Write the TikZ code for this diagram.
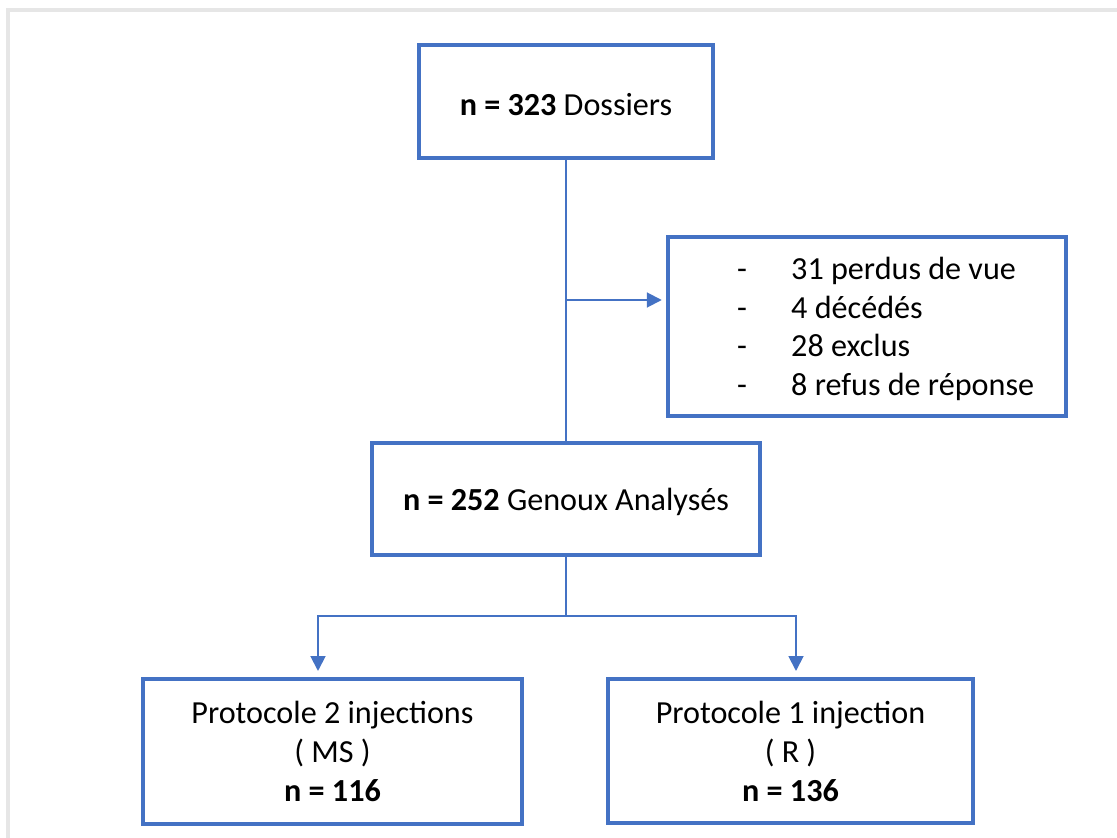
\documentclass[tikz,border=0pt]{standalone}
\usepackage{fontspec}
\setmainfont{Carlito}
\usetikzlibrary{arrows.meta}
\definecolor{boxblue}{HTML}{4472C4}
\definecolor{framegray}{HTML}{E6E6E6}
\tikzset{
  box/.style={draw=boxblue,line width=2.1pt,fill=white,align=center,inner sep=0pt,font=\fontsize{18.3}{22.2}\selectfont},
  link/.style={draw=boxblue,line width=1.1pt},
  arr/.style={link,-{Triangle[length=8.5pt,width=8.5pt]}}
}
\begin{document}
\begin{tikzpicture}[x=0.02cm,y=-0.02cm]
        \useasboundingbox (0,0) rectangle (1117,838);
        \draw[framegray,line width=2.2pt] (8,838)--(8,10)--(1117,10);
        \node[box,minimum width=294*0.02cm,minimum height=113*0.02cm,text height=16.4pt,text depth=0pt] (dos) at (566,101.5) {\textbf{n = 323} Dossiers};
        \node[box,minimum width=398*0.02cm,minimum height=179*0.02cm] (excl) at (867,326.5) {};
        \node[box,minimum width=388*0.02cm,minimum height=112*0.02cm,text height=13.6pt,text depth=0pt] (gen) at (566,499) {\textbf{n = 252} Genoux Analysés};
        \node[box,minimum width=379*0.02cm,minimum height=145*0.02cm] (ms) at (332.5,751.5) {Protocole 2 injections\\( MS )\\\textbf{n = 116}};
        \node[box,minimum width=365*0.02cm,minimum height=144*0.02cm] (r) at (790.5,751) {Protocole 1 injection\\( R )\\\textbf{n = 136}};
        \foreach \t [count=\i] in {31 perdus de vue,4 décédés,28 exclus,8 refus de réponse}{
          \node[font=\fontsize{18.3}{22}\selectfont,anchor=base] (d\i) at (742,240+39*\i) {-};
          \node[font=\fontsize{18.3}{22}\selectfont,anchor=base west] (l\i) at (785,240+39*\i) {\t};
        }
        \coordinate (branch) at (566,300);
        \coordinate (split) at (566,616);
        \coordinate (tms) at (318,671);
        \coordinate (tr) at (796,671);
        \draw[link] (dos.south)--(gen.north);
        \draw[arr,shorten >=2.5pt] (branch)--(branch-|excl.west);
        \draw[link] (gen.south)--(split);
        \draw[arr] (split)-|(tms);
        \draw[arr] (split)-|(tr);
      \end{tikzpicture}
\end{document}
